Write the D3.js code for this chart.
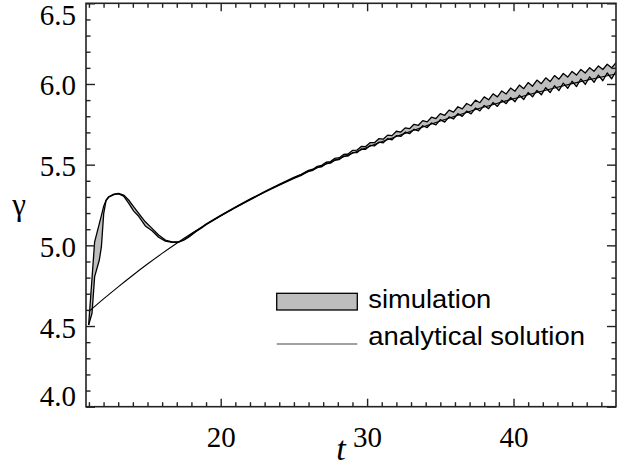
<!DOCTYPE html>
<html><head><meta charset="utf-8">
<script src="https://cdn.jsdelivr.net/npm/d3@7"></script>
<style>html,body{margin:0;padding:0;background:#fff;overflow:hidden}</style>
</head><body><svg id="c" width="626" height="473"></svg>
<script>
// ---------- data ----------
const xMajor = [20, 30, 40];
const yMajor = [4.0, 4.5, 5.0, 5.5, 6.0, 6.5];
const legendLabels = ["simulation", "analytical solution"];
const xLabel = "t";
const yLabel = "γ";

// analytical solution
const tAna = [11,12,13,14,15,16,17,18,19,20,21,22,23,24,25,26,27,28,29,30,31,32,33,34,35,36,37,38,39,40,41,42,43,44,45,46,47];
const gAna = [4.590,4.668,4.743,4.815,4.884,4.950,5.013,5.073,5.130,5.184,5.235,5.284,5.331,5.375,5.417,5.457,5.496,5.534,5.571,5.607,5.642,5.675,5.707,5.739,5.770,5.800,5.829,5.857,5.883,5.908,5.933,5.957,5.980,6.002,6.023,6.043,6.062];

// simulation band (lower / upper envelope)
const tSim = [10.98,11.21,11.39,11.71,11.85,12.01,12.17,12.35,12.7,13.03,13.37,13.71,14.06,14.40,14.85,15.31,15.76,16.22,16.67,17.13,17.5,17.81,18.3,18.72,19,20,21,22,23,24,25,25.5,
  26.0,26.3,26.6,26.9,27.2,27.5,27.8,28.1,28.4,28.7,29.0,29.3,29.6,29.9,30.2,30.5,30.8,31.1,31.4,31.7,32.0,32.3,32.6,32.9,33.2,33.5,33.8,34.1,34.4,34.7,35.0,35.3,35.6,35.9,36.2,36.5,36.8,37.1,37.4,37.7,38.0,38.3,38.6,38.9,39.2,39.5,39.8,40.1,40.4,40.7,41.0,41.3,41.6,41.9,42.2,42.5,42.8,43.1,43.4,43.7,44.0,44.3,44.6,44.9,45.2,45.5,45.8,46.1,46.4,46.7,47.0];
const simHigh = [4.506,4.795,5.022,5.135,5.184,5.243,5.280,5.301,5.317,5.322,5.312,5.281,5.239,5.198,5.146,5.105,5.064,5.033,5.022,5.022,5.036,5.055,5.088,5.114,5.132,5.186,5.237,5.286,5.333,5.378,5.421,5.440,
  5.465,5.472,5.490,5.496,5.515,5.519,5.539,5.543,5.563,5.566,5.588,5.590,5.613,5.612,5.636,5.636,5.661,5.658,5.683,5.680,5.707,5.702,5.728,5.723,5.750,5.744,5.773,5.765,5.794,5.786,5.816,5.806,5.838,5.826,5.859,5.846,5.879,5.865,5.900,5.884,5.920,5.902,5.939,5.920,5.957,5.938,5.975,5.955,5.993,5.971,6.009,5.986,6.024,6.002,6.038,6.015,6.052,6.030,6.065,6.043,6.078,6.055,6.090,6.068,6.101,6.079,6.112,6.090,6.122,6.100,6.132];
const simLow = [4.506,4.579,4.806,4.909,4.990,5.198,5.277,5.298,5.314,5.319,5.305,5.262,5.212,5.180,5.120,5.090,5.050,5.026,5.018,5.019,5.033,5.051,5.084,5.110,5.128,5.182,5.233,5.282,5.329,5.373,5.415,5.434,
  5.459,5.465,5.483,5.487,5.506,5.509,5.529,5.532,5.553,5.553,5.574,5.574,5.597,5.595,5.619,5.616,5.639,5.635,5.661,5.654,5.680,5.675,5.701,5.692,5.719,5.710,5.741,5.730,5.758,5.747,5.779,5.764,5.796,5.783,5.816,5.799,5.832,5.815,5.851,5.833,5.867,5.847,5.885,5.861,5.899,5.878,5.916,5.890,5.930,5.904,5.947,5.920,5.960,5.933,5.977,5.947,5.989,5.959,6.005,5.973,6.017,5.984,6.031,5.997,6.044,6.010,6.055,6.020,6.068,6.032,6.079];

// ---------- layout ----------
const SERIF = '"Liberation Serif"';
const SANS = '"Liberation Sans"';
const L = 86, R = 616, T = 3.3, B = 406.7;
const svg = d3.select("#c");
svg.append("rect").attr("width", 626).attr("height", 473).attr("fill", "#fff");

const x = d3.scaleLinear().domain([10.8, 47]).range([L, R]);
const y = d3.scaleLinear().domain([4.0, 6.5]).range([B, T]);

svg.append("clipPath").attr("id", "clip").append("rect")
  .attr("x", L).attr("y", T).attr("width", R - L).attr("height", B - T);

const plot = svg.append("g").attr("clip-path", "url(#clip)");
const idx = d3.range(tSim.length);

plot.append("path").datum(idx)
  .attr("d", d3.area().x(i => x(tSim[i])).y0(i => y(simLow[i])).y1(i => y(simHigh[i])))
  .attr("fill", "#bebebe").attr("stroke", "none");
[simHigh, simLow].forEach(arr => {
  plot.append("path").datum(idx)
    .attr("d", d3.line().x(i => x(tSim[i])).y(i => y(arr[i])))
    .attr("fill", "none").attr("stroke", "#000").attr("stroke-width", 1.3).attr("stroke-linejoin", "round");
});
plot.append("path").datum(d3.range(tAna.length))
  .attr("d", d3.line().curve(d3.curveMonotoneX).x(i => x(tAna[i])).y(i => y(gAna[i])))
  .attr("fill", "none").attr("stroke", "#000").attr("stroke-width", 1.1);

// ---------- axes ----------
const xMinor = d3.range(11, 47).filter(v => !xMajor.includes(v));
const yMinor = d3.range(41, 65).filter(v => v % 5 !== 0).map(v => v / 10);
const tickCol = "#222";

function styleAxis(g) {
  g.attr("font-family", null).attr("font-size", null);
  g.select(".domain").remove();
  g.selectAll(".tick line").attr("stroke", tickCol).attr("stroke-width", 1.4);
  g.selectAll("text").attr("fill", "#000")
    .style("font-family", SERIF).style("font-size", "29px");
}

// bottom
svg.append("g").attr("transform", `translate(0,${B})`)
  .call(d3.axisBottom(x).tickValues(xMajor).tickSize(-8).tickFormat(d3.format("d")))
  .call(styleAxis)
  .call(g => g.selectAll("text").attr("y", 40).attr("dy", 0));
svg.append("g").attr("transform", `translate(0,${B})`)
  .call(d3.axisBottom(x).tickValues(xMinor).tickSize(-4.5).tickFormat(""))
  .call(styleAxis);
// top
svg.append("g").attr("transform", `translate(0,${T})`)
  .call(d3.axisTop(x).tickValues(xMajor).tickSize(-8).tickFormat(""))
  .call(styleAxis);
svg.append("g").attr("transform", `translate(0,${T})`)
  .call(d3.axisTop(x).tickValues(xMinor).tickSize(-4.5).tickFormat(""))
  .call(styleAxis);
// left
svg.append("g").attr("transform", `translate(${L},0)`)
  .call(d3.axisLeft(y).tickValues(yMajor).tickSize(-9).tickPadding(10).tickFormat(d3.format(".1f")))
  .call(styleAxis)
  .call(g => g.selectAll("text").attr("dy", 0)
    .attr("y", d => d === 6.5 ? 21.5 : (d === 4.0 ? -1.7 : 11)));
svg.append("g").attr("transform", `translate(${L},0)`)
  .call(d3.axisLeft(y).tickValues(yMinor).tickSize(-4.5).tickFormat(""))
  .call(styleAxis);
// right
svg.append("g").attr("transform", `translate(${R},0)`)
  .call(d3.axisRight(y).tickValues(yMajor).tickSize(-9).tickFormat(""))
  .call(styleAxis);
svg.append("g").attr("transform", `translate(${R},0)`)
  .call(d3.axisRight(y).tickValues(yMinor).tickSize(-4.5).tickFormat(""))
  .call(styleAxis);

// frame
svg.append("rect").attr("x", L).attr("y", T).attr("width", R - L).attr("height", B - T)
  .attr("fill", "none").attr("stroke", tickCol).attr("stroke-width", 1.6);

// axis titles
svg.append("text").attr("x", 341).attr("y", 460).attr("text-anchor", "middle")
  .style("font-family", SERIF).style("font-style", "italic").style("font-size", "34px")
  .text(xLabel);
svg.append("text").attr("x", 19).attr("y", 215).attr("text-anchor", "middle")
  .style("font-family", SERIF).style("font-size", "31px")
  .text(yLabel);

// ---------- legend ----------
const lg = svg.append("g");
lg.append("rect").attr("x", 276.7).attr("y", 293.3).attr("width", 80.6).attr("height", 16.7)
  .attr("fill", "#bebebe").attr("stroke", "#000").attr("stroke-width", 1.3);
lg.append("line").attr("x1", 276.7).attr("x2", 357.3).attr("y1", 344).attr("y2", 344)
  .attr("stroke", "#444").attr("stroke-width", 1.2);
const legendY = [307.7, 345];
const legendW = [123, 216.7];
legendLabels.forEach((s, i) => {
  lg.append("text").attr("x", 368.3).attr("y", legendY[i])
    .style("font-family", SANS).style("font-size", "25px")
    .attr("textLength", legendW[i]).attr("lengthAdjust", "spacingAndGlyphs")
    .attr("fill", "#000").text(s);
});
</script></body></html>
